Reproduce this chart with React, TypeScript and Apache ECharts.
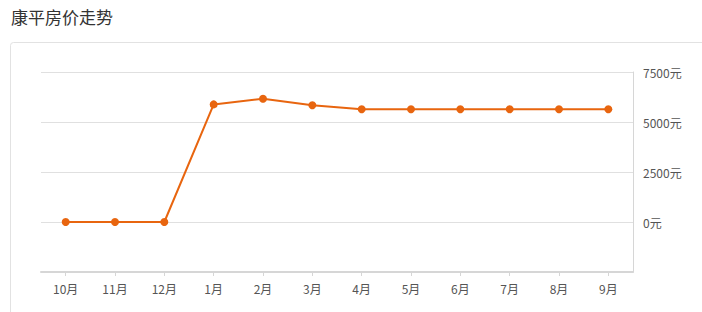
import React, { useEffect, useRef } from "react";
import * as echarts from "echarts";

const categories = ["10月", "11月", "12月", "1月", "2月", "3月", "4月", "5月", "6月", "7月", "8月", "9月"];
const prices = [0, 0, 0, 5880, 6160, 5840, 5640, 5640, 5640, 5640, 5640, 5640];
const titleText = "康平房价走势";
const unit = "元";

export default function App() {
  const ref = useRef<HTMLDivElement>(null);
  useEffect(() => {
    document.body.style.margin = "0";
    const chart = echarts.init(ref.current!, null, { renderer: "svg" });
    const font = '"Noto Sans CJK SC", "Noto Sans", sans-serif';
    chart.setOption({
      animation: false,
      textStyle: { fontFamily: font },
      title: {
        text: titleText,
        left: 6,
        top: 3,
        textStyle: { fontSize: 17, fontWeight: "normal", color: "#333", fontFamily: font },
      },
      graphic: [
        {
          type: "rect",
          shape: { x: 10.5, y: 42.5, width: 700, height: 290, r: 3 },
          style: { fill: "none", stroke: "#e2e2e2", lineWidth: 1 },
          silent: true,
        },
      ],
      grid: { left: 41, right: 69, top: 72, bottom: 40 },
      xAxis: {
        type: "category",
        data: categories,
        boundaryGap: true,
        axisLine: { show: true, onZero: false, lineStyle: { color: "#d6d6d6", width: 2 } },
        axisTick: { show: true, alignWithLabel: true, length: 4, lineStyle: { color: "#d6d6d6" } },
        axisLabel: { color: "#555", fontSize: 12, margin: 10, fontFamily: font },
        splitLine: { show: false },
      },
      yAxis: {
        type: "value",
        position: "right",
        min: -2500,
        max: 7500,
        interval: 2500,
        axisLine: { show: true, lineStyle: { color: "#d6d6d6", width: 1 } },
        axisTick: { show: false },
        axisLabel: {
          color: "#555",
          fontSize: 12,
          margin: 10,
          fontFamily: font,
          formatter: (v: number) => (v < 0 ? "" : v + unit),
        },
        splitLine: { show: true, lineStyle: { color: "#e0e0e0", width: 1 } },
      },
      series: [
        {
          type: "line",
          data: prices,
          symbol: "circle",
          symbolSize: 8,
          lineStyle: { color: "#e8650f", width: 2 },
          itemStyle: { color: "#e8650f" },
        },
      ],
    });
    return () => chart.dispose();
  }, []);
  return <div ref={ref} style={{ width: 702, height: 312 }} />;
}
